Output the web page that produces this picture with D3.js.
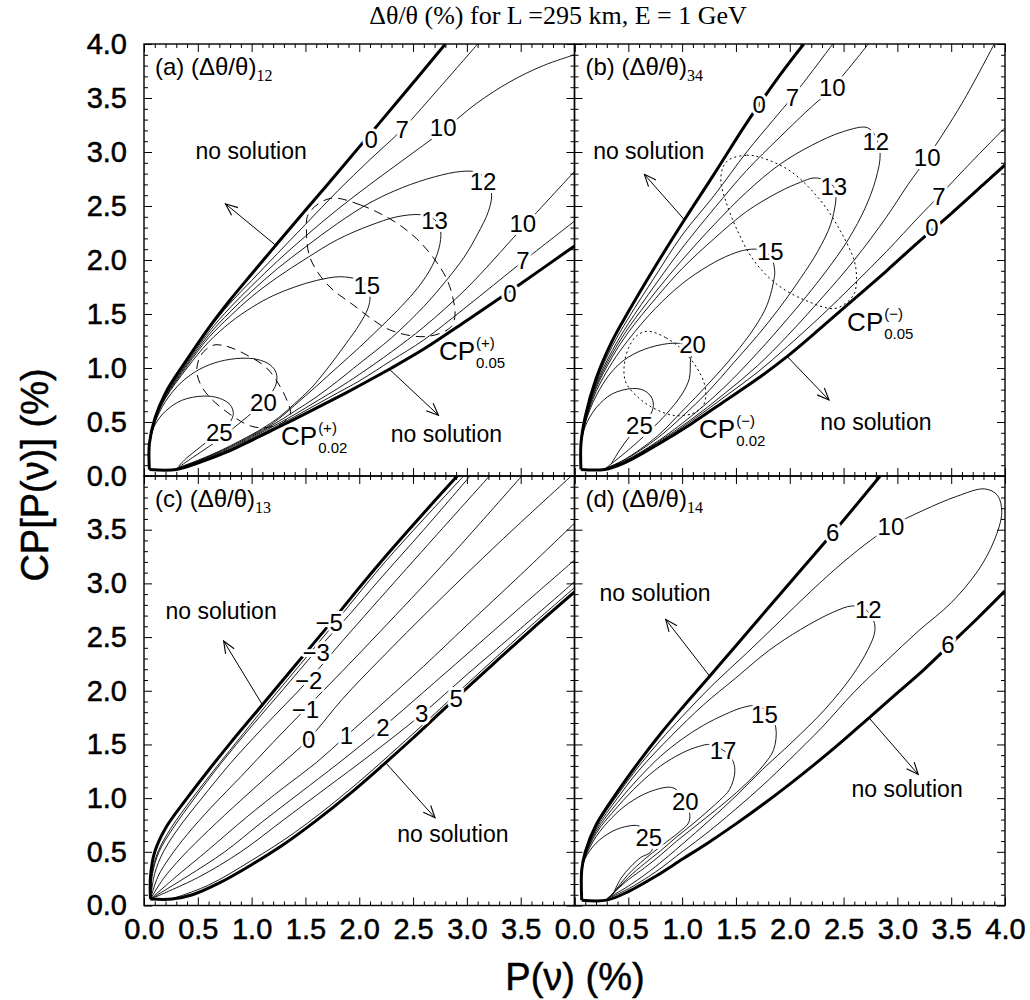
<!DOCTYPE html>
<html><head><meta charset="utf-8">
<script src="https://cdn.jsdelivr.net/npm/d3@7"></script>
<style>body{margin:0;background:#fff}</style>
</head><body><svg id="c" width="1030" height="1000"></svg>
<script>
// ---------------- DATA (P(nu) %, CP[P(nu)] %) ----------------
const majorTicks=[0,0.5,1,1.5,2,2.5,3,3.5,4];
const minorTicks=[0.1,0.2,0.3,0.4,0.6,0.7,0.8,0.9,1.1,1.2,1.3,1.4,1.6,1.7,1.8,1.9,2.1,2.2,2.3,2.4,2.6,2.7,2.8,2.9,3.1,3.2,3.3,3.4,3.6,3.7,3.8,3.9];
const tickLabelsFull=["0.0","0.5","1.0","1.5","2.0","2.5","3.0","3.5","4.0"];
const tickLabelsShort=["0.0","0.5","1.0","1.5","2.0","2.5","3.0","3.5"];

// panel (a)
const aBoundUpper=[[0.05,0.06],[0.05,0.3],[0.1,0.53],[0.2,0.77],[0.4,1.08],[0.6,1.37],[0.8,1.63],[1.0,1.87],[1.24,2.155],[1.5,2.46],[1.8,2.81],[2.1,3.165],[2.4,3.52],[2.8,4.0]];
const aBoundLower=[[0.05,0.06],[0.3,0.06],[0.5,0.12],[0.8,0.235],[1.0,0.33],[1.2,0.428],[1.4,0.527],[1.6,0.628],[1.8,0.73],[2.0,0.836],[2.3,1.0],[2.6,1.175],[3.0,1.44],[3.5,1.78],[4.0,2.13]];
const a7U=[[0.05,0.3],[0.1,0.525],[0.2,0.76],[0.4,1.065],[0.6,1.355],[0.8,1.6],[1.0,1.81],[1.24,2.06],[1.5,2.33],[1.8,2.64],[2.1,2.93],[2.4,3.21],[2.75,3.6],[3.1,4.0]];
const a10U=[[0.05,0.3],[0.1,0.52],[0.2,0.75],[0.4,1.05],[0.6,1.33],[0.8,1.56],[1.0,1.76],[1.24,1.99],[1.5,2.22],[1.8,2.47],[2.1,2.7],[2.4,2.92],[2.78,3.2],[3.09,3.45],[3.4,3.65],[3.71,3.8],[4.0,3.9]];
const a12=[[0.05,0.3],[0.1,0.515],[0.2,0.74],[0.4,1.035],[0.6,1.305],[0.8,1.52],[1.0,1.71],[1.24,1.92],[1.5,2.12],[1.8,2.34],[2.1,2.53],[2.4,2.67],[2.7,2.77],[2.95,2.82],[3.1,2.81],[3.2,2.72],[3.23,2.6],[3.2,2.45],[3.1,2.24],[2.97,2.02],[2.8,1.8],[2.6,1.57],[2.3,1.28],[2.0,1.04],[1.8,0.88],[1.6,0.73],[1.4,0.6],[1.2,0.475],[1.0,0.365],[0.8,0.26],[0.5,0.135],[0.3,0.066]];
const a13=[[0.05,0.3],[0.1,0.51],[0.2,0.73],[0.4,1.02],[0.6,1.28],[0.8,1.48],[1.0,1.66],[1.24,1.84],[1.5,2.01],[1.8,2.19],[2.1,2.32],[2.35,2.4],[2.566,2.42],[2.68,2.39],[2.75,2.3],[2.75,2.15],[2.68,1.95],[2.55,1.75],[2.4,1.58],[2.2,1.38],[2.0,1.19],[1.8,1.01],[1.6,0.83],[1.4,0.655],[1.2,0.49],[1.0,0.375],[0.8,0.27],[0.5,0.14],[0.3,0.068]];
const a15=[[0.05,0.3],[0.1,0.505],[0.2,0.72],[0.4,1.0],[0.6,1.24],[0.8,1.42],[1.0,1.56],[1.2,1.67],[1.4,1.75],[1.6,1.81],[1.82,1.845],[1.98,1.82],[2.07,1.76],[2.1,1.66],[2.08,1.55],[2.0,1.4],[1.88,1.23],[1.7,0.99],[1.55,0.81],[1.4,0.67],[1.25,0.54],[1.1,0.44],[0.9,0.33],[0.7,0.23],[0.5,0.145],[0.3,0.07]];
const a20=[[0.05,0.3],[0.1,0.49],[0.2,0.69],[0.35,0.87],[0.52,0.99],[0.7,1.06],[0.9,1.09],[1.05,1.08],[1.17,1.03],[1.23,0.95],[1.22,0.83],[1.11,0.69],[1.02,0.6],[0.9,0.5],[0.75,0.38],[0.6,0.27],[0.45,0.17],[0.32,0.08]];
const a25=[[0.05,0.3],[0.1,0.47],[0.2,0.6],[0.35,0.7],[0.55,0.74],[0.7,0.72],[0.8,0.66],[0.83,0.58],[0.8,0.5],[0.7,0.41],[0.6,0.33],[0.5,0.25],[0.4,0.17],[0.32,0.09]];
const a7L=[[0.3,0.062],[0.5,0.125],[0.8,0.24],[1.0,0.345],[1.2,0.445],[1.4,0.55],[1.6,0.66],[1.8,0.77],[2.0,0.88],[2.3,1.07],[2.6,1.26],[3.0,1.57],[3.5,1.97],[4.0,2.36]];
const a10L=[[0.3,0.064],[0.5,0.13],[0.8,0.25],[1.0,0.355],[1.2,0.46],[1.4,0.57],[1.6,0.69],[1.8,0.81],[2.0,0.94],[2.3,1.15],[2.6,1.38],[3.0,1.74],[3.5,2.28],[4.0,2.82]];
const aCP05=[[1.73,2.57],[2.01,2.51],[2.32,2.36],[2.53,2.2],[2.69,2.02],[2.81,1.83],[2.87,1.65],[2.89,1.49],[2.86,1.39],[2.75,1.32],[2.565,1.29],[2.29,1.35],[2.13,1.444],[1.95,1.58],[1.76,1.72],[1.64,1.85],[1.54,2.03],[1.51,2.245],[1.53,2.43]];
const aCP02=[[0.64,1.21],[0.77,1.2],[0.955,1.12],[1.14,1.0],[1.264,0.83],[1.34,0.67],[1.36,0.58],[1.3,0.5],[1.15,0.45],[1.0,0.46],[0.83,0.55],[0.61,0.73],[0.52,0.86],[0.49,0.98],[0.53,1.12]];
const aLabels=[["0",2.11,3.12],["7",2.40,3.21],["10",2.78,3.23],["12",3.15,2.73],["13",2.70,2.37],["15",2.07,1.76],["20",1.11,0.68],["25",0.70,0.40],["10",3.52,2.34],["7",3.52,2.0],["0",3.40,1.69]];
const aNotes=[[0.996,3.01],[2.81,0.39]];
const aArrows=[[[1.22,2.14],[0.757,2.52]],[[2.287,0.982],[2.736,0.563]]];
const aCP=[["(+)","0.05",2.74,1.074],["(+)","0.02",1.273,0.287]];

// panel (b)
const bBoundUpper=[[0.06,0.06],[0.06,0.3],[0.1,0.55],[0.2,0.9],[0.35,1.25],[0.5,1.52],[0.75,1.94],[1.02,2.37],[1.3,2.8],[1.6,3.27],[1.9,3.7],[2.13,4.0]];
const bBoundLower=[[0.06,0.06],[0.28,0.06],[0.46,0.12],[0.77,0.29],[1.08,0.48],[1.39,0.69],[1.7,0.9],[1.98,1.11],[2.3,1.38],[2.6,1.64],[2.9,1.9],[3.2,2.17],[3.5,2.43],[3.8,2.7],[4.0,2.88]];
const b7U=[[0.06,0.3],[0.1,0.54],[0.2,0.87],[0.35,1.2],[0.5,1.46],[0.75,1.85],[1.0,2.23],[1.3,2.6],[1.6,3.0],[1.85,3.3],[2.025,3.51],[2.4,4.0]];
const b10U=[[0.06,0.3],[0.1,0.53],[0.2,0.85],[0.35,1.16],[0.5,1.41],[0.75,1.77],[1.0,2.11],[1.3,2.48],[1.6,2.83],[1.9,3.13],[2.15,3.37],[2.396,3.598],[2.73,4.0]];
const b12=[[0.06,0.3],[0.1,0.52],[0.2,0.83],[0.35,1.13],[0.5,1.37],[0.75,1.7],[1.0,2.0],[1.3,2.33],[1.6,2.63],[1.9,2.88],[2.2,3.06],[2.5,3.19],[2.72,3.226],[2.8,3.14],[2.84,2.98],[2.8,2.75],[2.7,2.48],[2.55,2.2],[2.4,1.98],[2.2,1.72],[2.0,1.48],[1.7,1.14],[1.39,0.82],[1.08,0.55],[0.77,0.32],[0.46,0.135],[0.28,0.064]];
const b13=[[0.06,0.3],[0.1,0.51],[0.2,0.81],[0.35,1.1],[0.5,1.33],[0.75,1.64],[1.0,1.92],[1.3,2.2],[1.6,2.45],[1.9,2.63],[2.1,2.72],[2.226,2.76],[2.35,2.73],[2.42,2.66],[2.43,2.58],[2.38,2.33],[2.26,2.08],[2.1,1.83],[1.9,1.55],[1.7,1.3],[1.48,1.05],[1.25,0.79],[1.0,0.55],[0.77,0.35],[0.46,0.145],[0.28,0.066]];
const b15=[[0.06,0.3],[0.1,0.5],[0.2,0.78],[0.35,1.05],[0.5,1.26],[0.75,1.55],[1.0,1.78],[1.25,1.95],[1.45,2.05],[1.607,2.096],[1.75,2.09],[1.83,2.02],[1.86,1.9],[1.855,1.83],[1.79,1.585],[1.67,1.37],[1.48,1.12],[1.25,0.86],[1.0,0.6],[0.77,0.37],[0.46,0.15],[0.28,0.068]];
const b20=[[0.06,0.3],[0.1,0.49],[0.2,0.74],[0.35,0.97],[0.5,1.1],[0.7,1.19],[0.927,1.23],[1.05,1.21],[1.1,1.15],[1.08,1.09],[1.067,0.904],[1.0,0.76],[0.85,0.57],[0.7,0.42],[0.5,0.24],[0.3,0.08]];
const b25=[[0.06,0.3],[0.1,0.46],[0.2,0.63],[0.35,0.76],[0.54,0.81],[0.65,0.79],[0.72,0.72],[0.73,0.63],[0.68,0.53],[0.6,0.46],[0.5,0.35],[0.42,0.24],[0.34,0.11]];
const b7L=[[0.28,0.062],[0.46,0.125],[0.77,0.3],[1.08,0.505],[1.39,0.73],[1.7,0.96],[1.98,1.2],[2.3,1.49],[2.6,1.78],[2.9,2.08],[3.2,2.4],[3.385,2.59],[3.7,2.92],[4.0,3.226]];
const b10L=[[0.28,0.064],[0.46,0.13],[0.77,0.31],[1.08,0.52],[1.39,0.76],[1.7,1.02],[1.98,1.3],[2.3,1.65],[2.6,2.0],[2.9,2.4],[3.1,2.7],[3.277,2.947],[3.6,3.45],[3.9,4.0]];
const bCP05=[[1.437,2.93],[1.6,2.97],[1.73,2.95],[2.01,2.82],[2.29,2.545],[2.47,2.27],[2.6,1.99],[2.62,1.83],[2.6,1.69],[2.52,1.6],[2.41,1.55],[2.16,1.62],[1.886,1.77],[1.67,1.99],[1.515,2.27],[1.406,2.545],[1.36,2.73],[1.38,2.86]];
const bCP02=[[0.68,1.34],[0.85,1.28],[1.02,1.15],[1.175,0.935],[1.22,0.78],[1.2,0.66],[1.1,0.58],[0.93,0.56],[0.75,0.62],[0.6,0.72],[0.48,0.86],[0.46,1.0],[0.5,1.18],[0.58,1.3]];
const bLabels=[["0",1.716,3.443],["7",2.025,3.505],["10",2.396,3.598],["12",2.80,3.10],["13",2.41,2.684],["15",1.82,2.08],["20",1.097,1.214],["25",0.603,0.47],["10",3.277,2.947],["7",3.385,2.59],["0",3.32,2.30]];
const bNotes=[[0.69,3.01],[2.80,0.50]];
const bArrows=[[[1.02,2.374],[0.649,2.793]],[[1.978,1.105],[2.365,0.703]]];
const bCP=[["(\u2212)","0.05",2.533,1.343],["(\u2212)","0.02",1.157,0.352]];

// panel (c)
const cBoundUpper=[[0.06,0.06],[0.06,0.27],[0.1,0.5],[0.2,0.72],[0.4,1.0],[0.6,1.26],[0.8,1.51],[1.1,1.87],[1.4,2.23],[1.7,2.59],[2.0,2.96],[2.2,3.2],[2.55,3.6],[2.91,4.0]];
const cBoundLower=[[0.06,0.06],[0.26,0.06],[0.45,0.1],[0.7,0.21],[1.0,0.38],[1.3,0.57],[1.6,0.79],[1.9,1.03],[2.2,1.29],[2.5,1.56],[2.8,1.84],[3.216,2.223],[3.6,2.57],[4.0,2.92]];
const cM5=[[0.06,0.06],[0.075,0.3],[0.13,0.5],[0.25,0.72],[0.45,1.0],[0.65,1.26],[0.85,1.51],[1.14,1.87],[1.44,2.23],[1.74,2.59],[2.04,2.96],[2.24,3.2],[2.6,3.6],[2.97,4.0]];
const cM3=[[0.06,0.06],[0.08,0.3],[0.14,0.5],[0.27,0.72],[0.47,1.0],[0.72,1.33],[1.0,1.67],[1.3,2.02],[1.58,2.35],[1.9,2.7],[2.193,3.04],[2.6,3.5],[3.03,4.0]];
const cM2=[[0.06,0.06],[0.1,0.3],[0.18,0.5],[0.32,0.72],[0.53,0.99],[0.8,1.32],[1.1,1.65],[1.53,2.1],[1.85,2.47],[2.193,2.86],[2.7,3.43],[3.21,4.0]];
const cM1=[[0.06,0.06],[0.13,0.27],[0.24,0.45],[0.4,0.66],[0.63,0.92],[0.9,1.2],[1.2,1.52],[1.5,1.83],[1.85,2.19],[2.193,2.55],[2.8,3.2],[3.51,4.0]];
const cP0=[[0.06,0.06],[0.18,0.25],[0.35,0.45],[0.6,0.7],[0.9,0.98],[1.2,1.25],[1.53,1.55],[1.85,1.93],[2.193,2.29],[2.7,2.8],[3.3,3.38],[3.97,4.0]];
const cP1=[[0.06,0.06],[0.3,0.27],[0.6,0.52],[0.95,0.82],[1.3,1.1],[1.6,1.33],[1.88,1.58],[2.193,1.86],[2.6,2.23],[3.0,2.61],[3.5,3.08],[4.0,3.56]];
const cP2=[[0.06,0.06],[0.4,0.27],[0.75,0.5],[1.1,0.78],[1.45,1.05],[1.8,1.32],[2.22,1.66],[2.6,1.99],[3.0,2.34],[3.5,2.78],[4.0,3.217]];
const cP3=[[0.06,0.06],[0.5,0.26],[0.9,0.5],[1.3,0.8],[1.7,1.1],[2.1,1.4],[2.58,1.78],[3.0,2.15],[3.5,2.58],[4.0,3.015]];
const cP5=[[0.26,0.062],[0.6,0.19],[1.0,0.42],[1.4,0.68],[1.9,1.07],[2.5,1.6],[2.9,1.97],[3.216,2.26],[3.6,2.61],[4.0,2.96]];
const cLabels=[["\u22125",1.72,2.64],["\u22123",1.60,2.36],["\u22122",1.53,2.10],["\u22121",1.50,1.83],["0",1.53,1.55],["1",1.88,1.58],["2",2.22,1.66],["3",2.58,1.79],["5",2.90,1.93]];
const cNotes=[[0.716,2.74],[2.87,0.666]];
const cArrows=[[[1.1,1.87],[0.74,2.463]],[[2.245,1.33],[2.704,0.817]]];

// panel (d)
const dBoundUpper=[[0.067,0.05],[0.067,0.33],[0.1,0.5],[0.2,0.75],[0.4,1.06],[0.6,1.34],[0.8,1.6],[1.0,1.84],[1.26,2.14],[1.5,2.42],[1.8,2.77],[2.1,3.12],[2.41,3.48],[2.84,4.0]];
const dBoundLower=[[0.067,0.05],[0.3,0.05],[0.5,0.13],[0.75,0.27],[1.0,0.43],[1.25,0.59],[1.5,0.76],[1.75,0.94],[2.0,1.13],[2.25,1.33],[2.5,1.54],[2.75,1.76],[3.0,1.98],[3.25,2.2],[3.5,2.44],[3.75,2.68],[4.0,2.93]];
const d10=[[0.067,0.33],[0.1,0.49],[0.2,0.73],[0.4,1.03],[0.6,1.3],[0.8,1.54],[1.0,1.76],[1.3,2.07],[1.6,2.35],[1.9,2.64],[2.2,2.93],[2.5,3.2],[2.75,3.4],[2.94,3.53],[3.24,3.68],[3.55,3.81],[3.81,3.88],[3.93,3.82],[3.97,3.66],[3.9,3.4],[3.75,3.12],[3.5,2.82],[3.2,2.56],[2.9,2.28],[2.6,1.99],[2.3,1.66],[2.0,1.36],[1.75,1.12],[1.5,0.9],[1.25,0.69],[1.0,0.5],[0.75,0.31],[0.5,0.155],[0.3,0.06]];
const d12=[[0.067,0.33],[0.1,0.48],[0.2,0.71],[0.4,1.0],[0.6,1.26],[0.9,1.58],[1.2,1.87],[1.5,2.12],[1.8,2.37],[2.1,2.57],[2.4,2.73],[2.58,2.79],[2.7,2.76],[2.78,2.65],[2.79,2.55],[2.73,2.39],[2.58,2.14],[2.33,1.83],[2.02,1.52],[1.75,1.27],[1.5,1.02],[1.25,0.79],[1.0,0.57],[0.75,0.36],[0.5,0.18],[0.3,0.065]];
const d15=[[0.067,0.33],[0.1,0.47],[0.2,0.69],[0.4,0.96],[0.6,1.19],[0.8,1.39],[1.0,1.55],[1.2,1.68],[1.4,1.78],[1.55,1.84],[1.68,1.86],[1.8,1.8],[1.87,1.66],[1.85,1.45],[1.75,1.3],[1.6,1.14],[1.41,0.97],[1.25,0.84],[1.1,0.72],[0.95,0.6],[0.8,0.47],[0.65,0.35],[0.5,0.24],[0.31,0.07]];
const d17=[[0.067,0.33],[0.1,0.46],[0.2,0.67],[0.4,0.92],[0.6,1.13],[0.8,1.3],[1.0,1.42],[1.15,1.48],[1.26,1.5],[1.36,1.46],[1.46,1.37],[1.49,1.25],[1.44,1.08],[1.35,0.98],[1.25,0.89],[1.1,0.76],[0.95,0.64],[0.8,0.51],[0.65,0.39],[0.5,0.26],[0.33,0.08]];
const d20=[[0.067,0.33],[0.1,0.45],[0.2,0.64],[0.35,0.82],[0.5,0.95],[0.7,1.06],[0.9,1.1],[0.98,1.05],[1.03,0.97],[1.07,0.86],[1.06,0.77],[0.98,0.69],[0.8,0.55],[0.65,0.43],[0.5,0.29],[0.35,0.1]];
const d25=[[0.067,0.33],[0.1,0.44],[0.2,0.58],[0.35,0.69],[0.5,0.74],[0.6,0.74],[0.67,0.68],[0.7,0.62],[0.73,0.55],[0.7,0.49],[0.62,0.45],[0.52,0.36],[0.43,0.25],[0.36,0.11]];
const dLabels=[["6",2.40,3.47],["10",2.94,3.53],["12",2.73,2.76],["15",1.765,1.78],["17",1.38,1.44],["20",1.03,0.97],["25",0.69,0.63],["6",3.47,2.43]];
const dNotes=[[0.748,2.91],[3.09,1.085]];
const dArrows=[[[1.255,2.137],[0.847,2.665]],[[2.735,1.75],[3.194,1.22]]];

// ---------------- DRAWING ----------------
const X0=144, XM=574.5, X1=1005, Y0=44, YM=476, Y1=905.5;
const FS="'Liberation Sans', Arial, Helvetica, sans-serif";
const FSER="'Liberation Serif', 'Times New Roman', Times, serif";

const panels=[
 {key:'a',xr:[X0,XM],yr:[Y0,YM],bounds:[aBoundUpper,aBoundLower],thin:[a7U,a10U,a12,a13,a15,a20,a25,a7L,a10L],closed:[aCP05,aCP02],dash:'9,6',labels:aLabels,notes:aNotes,arrows:aArrows,cps:aCP,name:'(a) (\u0394\u03b8/\u03b8)',sub:'12',yTicks:majorTicks,yTickLabels:tickLabelsFull,xTicks:null},
 {key:'b',xr:[XM,X1],yr:[Y0,YM],bounds:[bBoundUpper,bBoundLower],thin:[b7U,b10U,b12,b13,b15,b20,b25,b7L,b10L],closed:[bCP05,bCP02],dash:'2,3',labels:bLabels,notes:bNotes,arrows:bArrows,cps:bCP,name:'(b) (\u0394\u03b8/\u03b8)',sub:'34',yTicks:null,xTicks:null},
 {key:'c',xr:[X0,XM],yr:[YM,Y1],bounds:[cBoundUpper,cBoundLower],thin:[cM5,cM3,cM2,cM1,cP0,cP1,cP2,cP3,cP5],closed:[],dash:'',labels:cLabels,notes:cNotes,arrows:cArrows,cps:[],name:'(c) (\u0394\u03b8/\u03b8)',sub:'13',yTicks:majorTicks.slice(0,8),yTickLabels:tickLabelsShort,xTicks:majorTicks.slice(0,8),xTickLabels:tickLabelsShort},
 {key:'d',xr:[XM,X1],yr:[YM,Y1],bounds:[dBoundUpper,dBoundLower],thin:[d10,d12,d15,d17,d20,d25],closed:[],dash:'',labels:dLabels,notes:dNotes,arrows:dArrows,cps:[],name:'(d) (\u0394\u03b8/\u03b8)',sub:'14',yTicks:null,xTicks:majorTicks,xTickLabels:tickLabelsFull}
];

const svg=d3.select('#c');
svg.append('rect').attr('width',1030).attr('height',1000).attr('fill','#fff');
const defs=svg.append('defs');
defs.append('marker').attr('id','arr').attr('viewBox','0 0 14 14').attr('refX',13).attr('refY',7)
  .attr('markerWidth',14).attr('markerHeight',14).attr('markerUnits','userSpaceOnUse').attr('orient','auto')
  .append('path').attr('d','M1,2 L13,7 L1,12').attr('fill','none').attr('stroke','#000').attr('stroke-width',1.1);

panels.forEach(p=>{
  const xs=d3.scaleLinear().domain([0,4]).range(p.xr);
  const ys=d3.scaleLinear().domain([0,4]).range([p.yr[1],p.yr[0]]);
  defs.append('clipPath').attr('id','clip-'+p.key).append('rect')
    .attr('x',p.xr[0]).attr('y',p.yr[0]).attr('width',p.xr[1]-p.xr[0]).attr('height',p.yr[1]-p.yr[0]);
  const g=svg.append('g');
  const cg=g.append('g').attr('clip-path','url(#clip-'+p.key+')');
  const line=d3.line().x(d=>xs(d[0])).y(d=>ys(d[1])).curve(d3.curveCatmullRom.alpha(0.5));
  const lineC=d3.line().x(d=>xs(d[0])).y(d=>ys(d[1])).curve(d3.curveCatmullRomClosed.alpha(0.5));
  p.closed.forEach(c=>cg.append('path').attr('d',lineC(c)).attr('fill','none').attr('stroke','#000')
    .attr('stroke-width',1).attr('stroke-dasharray',p.dash));
  p.thin.forEach(c=>cg.append('path').attr('d',line(c)).attr('fill','none').attr('stroke','#000').attr('stroke-width',0.9));
  p.bounds.forEach(c=>cg.append('path').attr('d',line(c)).attr('fill','none').attr('stroke','#000').attr('stroke-width',3).attr('stroke-linejoin','round'));
  p.arrows.forEach(a=>g.append('line').attr('x1',xs(a[0][0])).attr('y1',ys(a[0][1])).attr('x2',xs(a[1][0])).attr('y2',ys(a[1][1]))
    .attr('stroke','#000').attr('stroke-width',1).attr('marker-end','url(#arr)'));
  p.labels.forEach(l=>g.append('text').attr('x',xs(l[1])).attr('y',ys(l[2])).attr('text-anchor','middle').attr('dominant-baseline','central')
    .attr('font-family',FS).attr('font-size',24).attr('fill','#000').attr('stroke','#fff').attr('stroke-width',6)
    .attr('paint-order','stroke').attr('stroke-linejoin','round').text(l[0]));
  p.notes.forEach(n=>g.append('text').attr('x',xs(n[0])).attr('y',ys(n[1])).attr('text-anchor','middle').attr('dominant-baseline','central')
    .attr('font-family',FS).attr('font-size',23).text('no solution'));
  p.cps.forEach(c=>{
    const t=g.append('text').attr('x',xs(c[2])).attr('y',ys(c[3])).attr('font-family',FS).attr('font-size',26)
      .attr('stroke','#fff').attr('stroke-width',5).attr('paint-order','stroke').text('CP');
    const w=t.node().getComputedTextLength();
    g.append('text').attr('x',xs(c[2])+w+1).attr('y',ys(c[3])-12).attr('font-family',FS).attr('font-size',15).text(c[0]);
    g.append('text').attr('x',xs(c[2])+w+1).attr('y',ys(c[3])+8).attr('font-family',FS).attr('font-size',15).text(c[1]);
  });
  const nt=g.append('text').attr('x',p.xr[0]+11).attr('y',p.yr[0]+31).attr('font-family',FS).attr('font-size',24).text(p.name);
  nt.append('tspan').attr('font-family',FSER).attr('font-size',16).attr('dy',6).text(p.sub);
  [[minorTicks,4],[majorTicks,8]].forEach(([vals,len])=>{
    const tg=g.append('g');
    tg.append('g').attr('transform','translate(0,'+p.yr[1]+')').call(d3.axisBottom(xs).tickValues(vals).tickSize(-len).tickFormat('')).call(s=>s.select('.domain').remove());
    tg.append('g').attr('transform','translate(0,'+p.yr[0]+')').call(d3.axisTop(xs).tickValues(vals).tickSize(-len).tickFormat('')).call(s=>s.select('.domain').remove());
    tg.append('g').attr('transform','translate('+p.xr[0]+',0)').call(d3.axisLeft(ys).tickValues(vals).tickSize(-len).tickFormat('')).call(s=>s.select('.domain').remove());
    tg.append('g').attr('transform','translate('+p.xr[1]+',0)').call(d3.axisRight(ys).tickValues(vals).tickSize(-len).tickFormat('')).call(s=>s.select('.domain').remove());
  });
  g.append('rect').attr('x',p.xr[0]).attr('y',p.yr[0]).attr('width',p.xr[1]-p.xr[0]).attr('height',p.yr[1]-p.yr[0])
    .attr('fill','none').attr('stroke','#000').attr('stroke-width',1.4);
  if(p.yTicks){
    const ax=g.append('g').attr('transform','translate('+p.xr[0]+',0)')
      .call(d3.axisLeft(ys).tickValues(p.yTicks).tickSize(0).tickPadding(17).tickFormat((d,i)=>p.yTickLabels[i]));
    ax.select('.domain').remove();
    ax.selectAll('text').attr('font-family',FS).attr('font-size',29).attr('fill','#000').attr('stroke','#000').attr('stroke-width',0.5);
  }
  if(p.xTicks){
    const ax=g.append('g').attr('transform','translate(0,'+p.yr[1]+')')
      .call(d3.axisBottom(xs).tickValues(p.xTicks).tickSize(0).tickPadding(13).tickFormat((d,i)=>p.xTickLabels[i]));
    ax.select('.domain').remove();
    ax.selectAll('text').attr('font-family',FS).attr('font-size',29).attr('fill','#000').attr('stroke','#000').attr('stroke-width',0.5);
  }
});

svg.append('text').attr('x',558).attr('y',24).attr('text-anchor','middle').attr('font-family',FSER).attr('font-size',26)
  .text('\u0394\u03b8/\u03b8 (%) for L =295 km, E = 1 GeV');
svg.append('text').attr('x',575).attr('y',990).attr('text-anchor','middle').attr('font-family',FS).attr('font-size',38)
  .attr('stroke','#000').attr('stroke-width',0.5).text('P(\u03bd) (%)');
svg.append('text').attr('transform','translate(48,475) rotate(-90)').attr('text-anchor','middle').attr('font-family',FS).attr('font-size',38)
  .attr('stroke','#000').attr('stroke-width',0.5).text('CP[P(\u03bd)] (%)');
</script></body></html>
